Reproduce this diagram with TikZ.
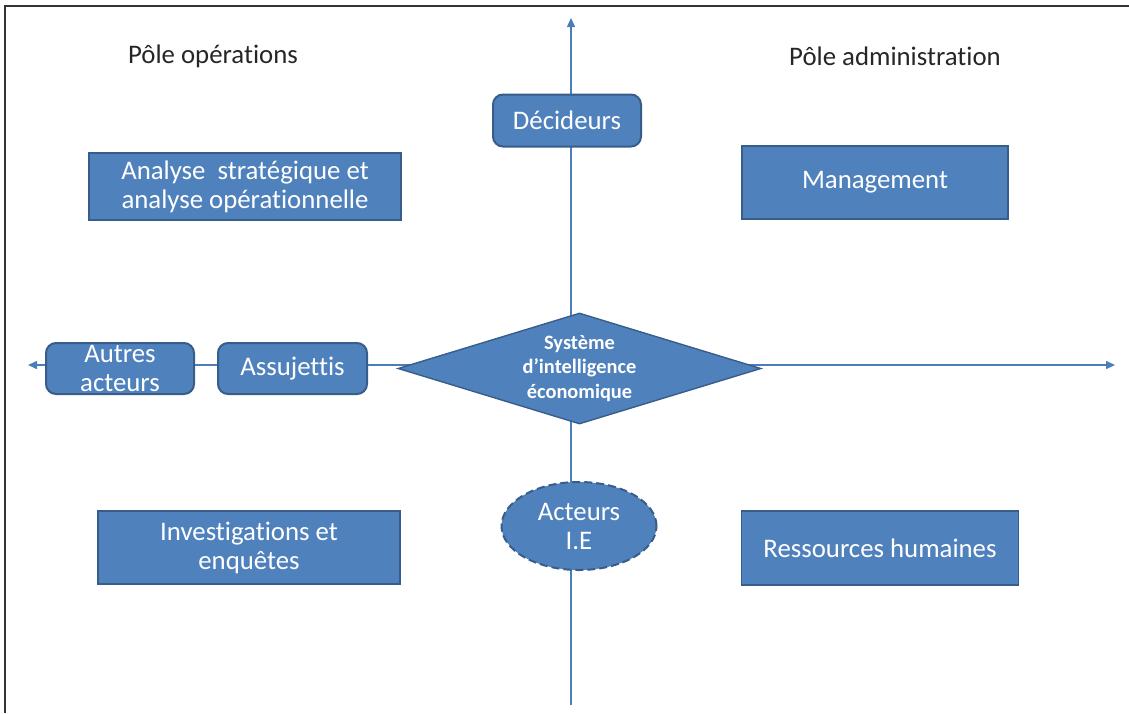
\documentclass[tikz,border=0pt]{standalone}
\usepackage{fontspec}
\setmainfont{Carlito}[RawFeature={-liga;-clig}]
\usetikzlibrary{arrows.meta,shapes.geometric}
\definecolor{boxblue}{HTML}{4F81BD}
\definecolor{boxedge}{HTML}{385D8A}
\definecolor{axisblue}{HTML}{4A7EBB}
\definecolor{titlegray}{HTML}{262626}
\begin{document}
\begin{tikzpicture}[x=0.5pt,y=-0.5pt,
  box/.style={draw=boxedge, line width=0.7pt, fill=boxblue, text=white, align=center, inner sep=0pt,
    font=\fontsize{13.4}{14.5}\selectfont},
  rbox/.style={box, rounded corners=5pt, line width=1pt},
  title/.style={text=titlegray, inner sep=0pt, font=\fontsize{13.4}{14.5}\selectfont},
  axis/.style={draw=axisblue, line width=0.75pt},
  tip/.tip={Triangle[length=4.5pt,width=4pt]}]
\useasboundingbox (0,0) rectangle (1129,713);
\draw[line width=1pt, black!80] (5,713) -- (5,6) -- (1129,6);
\coordinate (ax0) at (571,18);
\coordinate (ax1) at (571,705);
\coordinate (ax2) at (28,365);
\coordinate (ax3) at (1115,365);
\draw[axis, -tip] (ax1) -- (ax0);
\draw[axis, tip-tip] (ax2) -- (ax3);

\node[title] (t0) at (213,56.5) {Pôle opérations};
\node[title] (t1) at (895,56.5) {Pôle administration};
\node[rbox, minimum width=74pt, minimum height=26pt] (n0) at (567,120.5) {Décideurs};
\node[box, minimum width=156pt, minimum height=33.5pt] (n1) at (245,186.5) {Analyse\ \ stratégique et\\analyse opérationnelle};
\node[box, minimum width=133pt, minimum height=36.5pt] (n2) at (875,182.5) {Management};
\node[rbox, minimum width=74pt, minimum height=25.5pt] (n3) at (120,368.5) {Autres\\acteurs};
\node[rbox, minimum width=74.5pt, minimum height=25.5pt] (n4) at (292.5,368.5) {Assujettis};
\node[box, diamond, aspect=3.27, minimum width=181.5pt, minimum height=55.5pt,
  font=\fontsize{10.2}{12.25}\bfseries] (n5) at (579.5,368.5) {Système\\d’intelligence\\économique};
\node[box, minimum width=151pt, minimum height=36.5pt] (n6) at (249,547.5) {Investigations et\\enquêtes};
\node[box, ellipse, dashed, dash pattern=on 4pt off 2pt, line width=1pt, minimum width=77.5pt, minimum height=44pt] (n7) at (579,526) {Acteurs\\I.E};
\node[box, minimum width=138.5pt, minimum height=37pt] (n8) at (880,548) {Ressources humaines};

\end{tikzpicture}
\end{document}
